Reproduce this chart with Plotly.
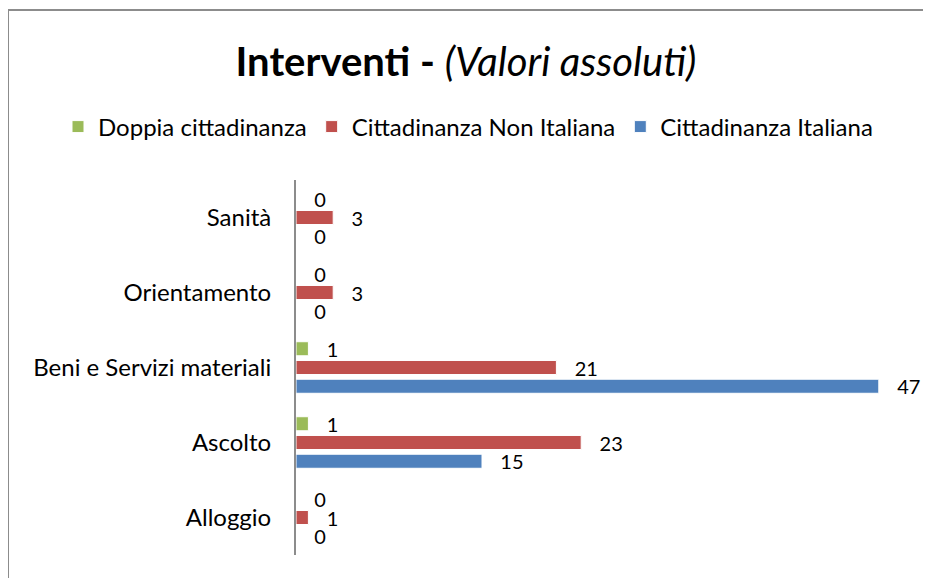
import plotly.graph_objects as go

# ============================================================
# Dati
# ============================================================
categorie = ["Alloggio", "Ascolto", "Beni e Servizi materiali", "Orientamento", "Sanità"]
italiana = [0, 15, 47, 0, 0]
non_italiana = [1, 23, 21, 3, 3]
doppia = [0, 1, 1, 0, 0]

FONT = "Lato, 'Open Sans', sans-serif"

serie = [
    ("Cittadinanza Italiana", italiana, "#4f81bd"),
    ("Cittadinanza Non Italiana", non_italiana, "#c0504d"),
    ("Doppia cittadinanza", doppia, "#9bbb59"),
]

# la pagina ha un margine di 8px: le posizioni sono compensate
OFF = 8

fig = go.Figure()

for nome, valori, colore in serie:
    fig.add_trace(go.Bar(
        y=categorie, x=valori, name=nome, orientation="h",
        marker=dict(color=colore, line=dict(color="white", width=1)),
        texttemplate="\u00a0\u00a0\u00a0%{x}",
        textposition="outside",
        constraintext="none",
        textfont=dict(size=20, color="black", family=FONT),
        cliponaxis=False,
    ))

# cornice del grafico (tagliata a destra e in basso come nell'originale)
fig.add_shape(type="rect", xref="paper", yref="paper",
              x0=-0.4645, x1=1.05, y0=-0.1, y1=1.4533,
              line=dict(color="#8c8c8c", width=2))

fig.update_layout(
    title=dict(
        text="<b>Interventi - </b><i>(Valori assoluti)</i>",
        x=(466 - OFF) / 931, xref="container", xanchor="center",
        y=1 - (62 - OFF) / 578, yref="container", yanchor="middle",
        font=dict(size=40, color="black", family=FONT),
    ),
    barmode="group",
    bargap=0.25,
    bargroupgap=0.25,
    xaxis=dict(visible=False, range=[0, 50]),
    yaxis=dict(
        categoryorder="array", categoryarray=categorie,
        showline=True, linecolor="#8c8c8c", linewidth=2,
        showgrid=False, zeroline=False, ticks="",
        ticklabelstandoff=18,
        tickfont=dict(size=24, color="black", family=FONT),
    ),
    legend=dict(
        orientation="h", traceorder="reversed",
        xref="paper", yref="paper",
        x=(58 - 296) / 620, xanchor="left",
        y=1 + (180 - 127) / 375, yanchor="middle",
        font=dict(size=24, color="black", family=FONT),
    ),
    showlegend=True,
    plot_bgcolor="white",
    paper_bgcolor="white",
    width=931, height=578,
    margin=dict(l=296 - OFF, r=15 + OFF, t=180 - OFF, b=23 + OFF),
)

fig.write_html("out.html")
